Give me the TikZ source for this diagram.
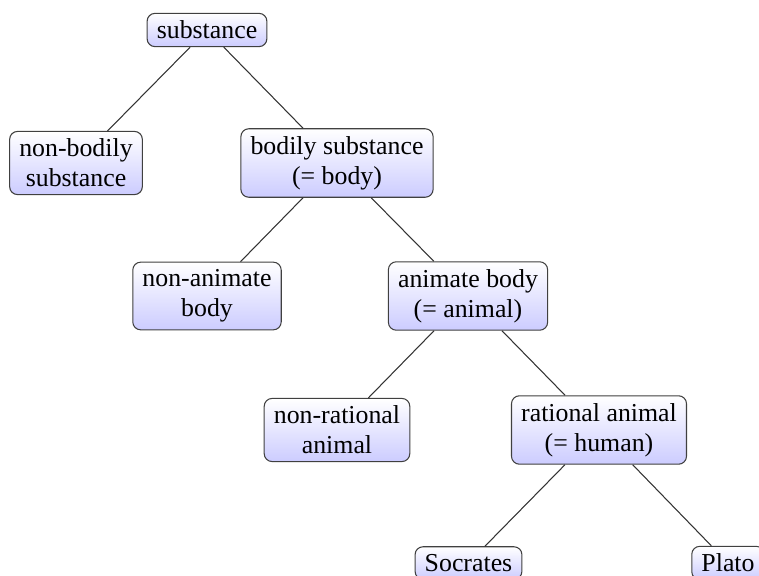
\documentclass[tikz,border=0pt]{standalone}
\usepackage{fontspec}
\setmainfont{Liberation Serif}
\begin{document}
\begin{tikzpicture}[
    concept/.style={draw=black!75, line width=0.6pt, rounded corners=4.5pt,
        top color=white, bottom color=blue!20, align=center,
        inner xsep=5.5pt, inner ysep=4.3pt, font=\fontsize{14.7}{17}\selectfont},
    link/.style={draw=black!80, line width=0.6pt}
]
    \useasboundingbox (0, 0) rectangle (15.18, -11.52);
    \node[concept] (substance) at (4.14, -0.60) {substance};
    \node[concept] (nonbodily) at (1.52, -3.26) {non-bodily\\substance};
    \node[concept] (bodily) at (6.74, -3.26) {bodily substance\\(= body)};
    \node[concept] (nonanimate) at (4.14, -5.92) {non-animate\\body};
    \node[concept] (animate) at (9.36, -5.92) {animate body\\(= animal)};
    \node[concept] (nonrational) at (6.74, -8.60) {non-rational\\animal};
    \node[concept] (rational) at (11.98, -8.60) {rational animal\\(= human)};
    \node[concept] (socrates) at (9.37, -11.26) {Socrates};
    \node[concept] (plato) at (14.56, -11.26) {Plato};
    \draw[link] (substance) -- (nonbodily);
    \draw[link] (substance) -- (bodily);
    \draw[link] (bodily) -- (nonanimate);
    \draw[link] (bodily) -- (animate);
    \draw[link] (animate) -- (nonrational);
    \draw[link] (animate) -- (rational);
    \draw[link] (rational) -- (socrates);
    \draw[link] (rational) -- (plato);
\end{tikzpicture}
\end{document}
